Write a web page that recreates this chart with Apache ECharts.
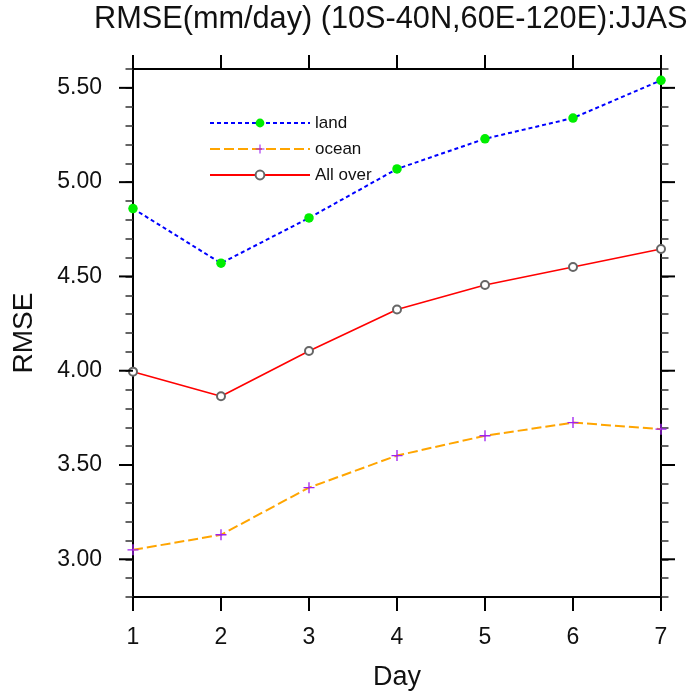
<!DOCTYPE html>
<html>
<head>
<meta charset="utf-8">
<script src="https://cdn.jsdelivr.net/npm/echarts@6/dist/echarts.min.js"></script>
<style>
  html, body { margin: 0; padding: 0; background: #fff; }
  #chart { width: 691px; height: 694px; }
</style>
</head>
<body>
<div id="chart"></div>
<script>
// ---- data ----
const days = [1, 2, 3, 4, 5, 6, 7];
const land = [4.86, 4.57, 4.81, 5.07, 5.23, 5.34, 5.54];
const ocean = [3.05, 3.13, 3.38, 3.55, 3.655, 3.725, 3.69];
const allOver = [3.995, 3.865, 4.105, 4.325, 4.455, 4.55, 4.645];
const seriesNames = ['land', 'ocean', 'All over'];
const majorTicks = [3.0, 3.5, 4.0, 4.5, 5.0, 5.5];
const yTickLabels = ['3.00', '3.50', '4.00', '4.50', '5.00', '5.50'];
const xTickLabels = ['1', '2', '3', '4', '5', '6', '7'];
const titleText = 'RMSE(mm/day) (10S-40N,60E-120E):JJAS';

const FONT = 'Liberation Sans, Arial, Helvetica, sans-serif';
const pair = (vals) => days.map((d, i) => [d, vals[i]]);

const yLabel = (v) => {
  const idx = majorTicks.findIndex(t => Math.abs(t - v) < 1e-6);
  return idx >= 0 ? yTickLabels[idx] : '';
};
const xLabel = (v) => {
  const idx = days.findIndex(t => Math.abs(t - v) < 1e-6);
  return idx >= 0 ? xTickLabels[idx] : '';
};

const plusPath = 'path://M4.4,0H5.6V4.4H10V5.6H5.6V10H4.4V5.6H0V4.4H4.4Z';

const chart = echarts.init(document.getElementById('chart'), null, { renderer: 'canvas' });

const baseX = {
  type: 'value', min: 1, max: 7, interval: 1,
  splitLine: { show: false },
  axisLine: { show: true, onZero: false, lineStyle: { color: '#000', width: 2 } },
  axisTick: { show: true, inside: false, length: 14, lineStyle: { color: '#000', width: 2 } }
};
const baseY = {
  type: 'value', min: 2.8, max: 5.6, interval: 0.1,
  splitLine: { show: false },
  axisLine: { show: true, onZero: false, lineStyle: { color: '#000', width: 2 } },
  axisTick: { show: true, inside: false, length: 7.5, lineStyle: { color: '#333', width: 1.5 } }
};

chart.setOption({
  animation: false,
  backgroundColor: '#fff',
  title: {
    text: titleText,
    left: 89, top: -1,
    textStyle: { fontFamily: FONT, fontSize: 30.7, fontWeight: 'normal', color: '#111' }
  },
  grid: { left: 133, top: 69, width: 528, height: 528, containLabel: false, outerBoundsMode: 'none' },
  legend: {
    orient: 'vertical',
    left: 209, top: 113, padding: 0,
    itemWidth: 100, itemHeight: 11, itemGap: 6,
    textStyle: { fontFamily: FONT, fontSize: 17, color: '#111', lineHeight: 20 },
    data: seriesNames
  },
  xAxis: [
    Object.assign({}, baseX, {
      position: 'bottom',
      axisLabel: { show: true, margin: 29, fontFamily: FONT, fontSize: 23, color: '#111', formatter: xLabel },
      name: 'Day', nameLocation: 'middle', nameGap: 67,
      nameTextStyle: { fontFamily: FONT, fontSize: 27, color: '#111' }
    }),
    Object.assign({}, baseX, { position: 'top', axisLabel: { show: false } })
  ],
  yAxis: [
    Object.assign({}, baseY, {
      position: 'left',
      axisLabel: { show: true, margin: 31, fontFamily: FONT, fontSize: 23, color: '#111', formatter: yLabel },
      name: 'RMSE', nameLocation: 'middle', nameGap: 95,
      nameTextStyle: { fontFamily: FONT, fontSize: 28, color: '#111' }
    }),
    Object.assign({}, baseY, { position: 'right', axisLabel: { show: false } })
  ],
  series: [
    {
      name: seriesNames[0], type: 'line', data: pair(land), clip: false,
      symbol: 'circle', symbolSize: 9.5,
      itemStyle: { color: '#00ee00' },
      lineStyle: { color: '#0000ff', width: 2, type: [4, 3] },
      z: 5
    },
    {
      name: seriesNames[1], type: 'line', data: pair(ocean), clip: false,
      symbol: plusPath, symbolSize: 11,
      itemStyle: { color: '#a020f0' },
      lineStyle: { color: '#ffa500', width: 2, type: [10, 4] },
      z: 4
    },
    {
      name: seriesNames[2], type: 'line', data: pair(allOver), clip: false,
      symbol: 'emptyCircle', symbolSize: 8,
      itemStyle: { color: '#666', borderWidth: 1 },
      lineStyle: { color: '#ff0000', width: 1.6, type: 'solid' },
      z: 3
    },
    {
      // major ticks on left and right y axes, positioned via the axis scale
      type: 'custom', name: 'majorTicks', silent: true, clip: false,
      data: majorTicks.map(v => [days[0], v]),
      renderItem: function (params, api) {
        const p = api.coord([api.value(0), api.value(1)]);
        const cs = params.coordSys;
        const y = p[1];
        return {
          type: 'group',
          children: [
            { type: 'line', shape: { x1: cs.x - 14, y1: y, x2: cs.x, y2: y }, style: { stroke: '#000', lineWidth: 2 } },
            { type: 'line', shape: { x1: cs.x + cs.width, y1: y, x2: cs.x + cs.width + 14, y2: y }, style: { stroke: '#000', lineWidth: 2 } }
          ]
        };
      },
      z: 10
    }
  ]
});
</script>
</body>
</html>
